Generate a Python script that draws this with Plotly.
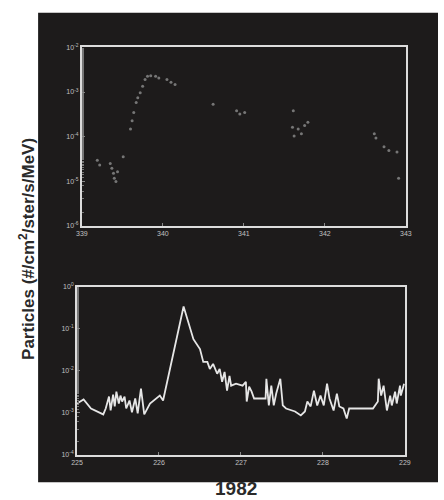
import plotly.graph_objects as go

# ---- data ----
# Top panel: day of year (339-343) vs particle flux (scattered points)
top_day = [339.19, 339.22, 339.35, 339.37, 339.39, 339.40, 339.42, 339.44, 339.51,
           339.60, 339.62, 339.64, 339.67, 339.69, 339.72, 339.75, 339.78, 339.81,
           339.85, 339.91, 339.95, 340.05, 340.10, 340.15,
           340.62, 340.91, 340.95, 341.01,
           341.61, 341.60, 341.62, 341.67, 341.71, 341.75, 341.79,
           342.61, 342.63, 342.73, 342.79, 342.89, 342.91]
top_flux = [2.97e-5, 2.31e-5, 2.51e-5, 1.95e-5, 1.51e-5, 1.17e-5, 9.9e-6, 1.64e-5, 3.52e-5,
            1.49e-4, 2.28e-4, 3.48e-4, 5.78e-4, 7.46e-4, 9.62e-4, 1.35e-3, 1.90e-3, 2.25e-3,
            2.32e-3, 2.25e-3, 2.07e-3, 1.90e-3, 1.66e-3, 1.47e-3,
            5.32e-4, 3.78e-4, 3.20e-4, 3.48e-4,
            3.78e-4, 1.62e-4, 1.03e-4, 1.49e-4, 1.16e-4, 1.77e-4, 2.09e-4,
            1.16e-4, 9.3e-5, 5.9e-5, 4.9e-5, 4.5e-5, 1.17e-5]

# Bottom panel: day of year (225-229) vs particle flux (line)
bot_day = [225.00, 225.08, 225.17, 225.32, 225.35, 225.39, 225.41, 225.44, 225.46, 225.48,
           225.51, 225.53, 225.55, 225.58, 225.60, 225.64, 225.67, 225.71, 225.74, 225.78,
           225.82, 225.89, 226.01, 226.05, 226.30, 226.42, 226.50, 226.54, 226.59, 226.62,
           226.66, 226.71, 226.74, 226.77, 226.80, 226.83, 226.86, 226.88, 226.94, 227.02,
           227.06, 227.07, 227.10, 227.13, 227.16, 227.19, 227.30, 227.31, 227.34, 227.37,
           227.40, 227.43, 227.48, 227.51, 227.55, 227.66, 227.73, 227.78, 227.81, 227.85,
           227.89, 227.93, 227.97, 228.01, 228.05, 228.08, 228.13, 228.17, 228.20, 228.25,
           228.29, 228.32, 228.49, 228.61, 228.67, 228.68, 228.71, 228.74, 228.78, 228.82,
           228.84, 228.88, 228.90, 228.94, 228.95, 228.99]
bot_flux = [1.66e-3, 2.06e-3, 1.26e-3, 9.1e-4, 1.26e-3, 2.43e-3, 1.13e-3, 2.70e-3, 1.41e-3, 3.18e-3,
            1.66e-3, 2.56e-3, 1.85e-3, 2.43e-3, 1.26e-3, 1.95e-3, 1.02e-3, 2.18e-3, 9.6e-4, 3.75e-3,
            9.1e-4, 1.66e-3, 2.56e-3, 1.95e-3, 0.343, 0.0569, 0.0330, 0.0163, 0.0163, 0.0111,
            0.0146, 8.5e-3, 0.0111, 5.48e-3, 9.4e-3, 3.36e-3, 7.6e-3, 4.41e-3, 4.92e-3, 4.41e-3,
            5.48e-3, 1.85e-3, 4.18e-3, 3.18e-3, 2.18e-3, 2.18e-3, 2.18e-3, 6.46e-3, 1.49e-3, 4.41e-3,
            1.49e-3, 2.86e-3, 6.46e-3, 1.49e-3, 1.26e-3, 1.07e-3, 8.6e-4, 1.07e-3, 1.85e-3, 1.41e-3,
            3.36e-3, 1.49e-3, 2.56e-3, 1.49e-3, 4.92e-3, 2.18e-3, 1.13e-3, 2.86e-3, 1.41e-3, 1.26e-3,
            7.3e-4, 1.26e-3, 1.26e-3, 1.26e-3, 1.85e-3, 6.46e-3, 2.56e-3, 4.41e-3, 1.13e-3, 2.56e-3,
            1.49e-3, 3.18e-3, 1.66e-3, 4.41e-3, 2.56e-3, 4.92e-3]

top_xticks = [339, 340, 341, 342, 343]
top_yticks = [1e-6, 1e-5, 1e-4, 1e-3, 1e-2]
top_ylabels = ["10<sup>-6</sup>", "10<sup>-5</sup>", "10<sup>-4</sup>", "10<sup>-3</sup>", "10<sup>-2</sup>"]
bot_xticks = [225, 226, 227, 228, 229]
bot_yticks = [1e-4, 1e-3, 1e-2, 1e-1, 1e0]
bot_ylabels = ["10<sup>-4</sup>", "10<sup>-3</sup>", "10<sup>-2</sup>", "10<sup>-1</sup>", "10<sup>0</sup>"]

y_title = "Particles (#/cm<sup>2</sup>/ster/s/MeV)"
x_title = "1982"

W, H = 444, 500
BG = "#1d1b1b"
FRAME = "#dcdcdc"
TICKFONT = dict(family="Liberation Sans, Arial", size=7, color="#c0c0c0")

fig = go.Figure()
fig.add_trace(go.Scatter(x=top_day, y=top_flux, mode="markers",
                         marker=dict(size=3, color="#767676"),
                         xaxis="x", yaxis="y", showlegend=False))
fig.add_trace(go.Scatter(x=bot_day, y=bot_flux, mode="lines",
                         line=dict(width=1.8, color="#e6e6e6"),
                         xaxis="x2", yaxis="y2", showlegend=False))

def px_x(p):
    return p / W

def px_y(p):
    return 1 - p / H

axis_common = dict(showline=True, mirror=True, linecolor=FRAME, linewidth=2,
                   showgrid=False, zeroline=False, ticks="inside", ticklen=3,
                   tickcolor="#888", tickfont=TICKFONT)

fig.update_layout(
    width=W, height=H,
    margin=dict(l=0, r=0, t=0, b=0),
    paper_bgcolor="white",
    plot_bgcolor=BG,
    xaxis=dict(domain=[px_x(78), px_x(411)], range=[339, 343], tickvals=top_xticks,
               anchor="y", **axis_common),
    yaxis=dict(domain=[px_y(225), px_y(44)], type="log", range=[-6, -2],
               tickvals=top_yticks, ticktext=top_ylabels, anchor="x",
               minor=dict(ticks="inside", ticklen=2, tickcolor="#777"),
               **axis_common),
    xaxis2=dict(domain=[px_x(73), px_x(410)], range=[225, 229], tickvals=bot_xticks,
                anchor="y2", **axis_common),
    yaxis2=dict(domain=[px_y(457), px_y(287)], type="log", range=[-4, 0],
                tickvals=bot_yticks, ticktext=bot_ylabels, anchor="x2",
                minor=dict(ticks="inside", ticklen=2, tickcolor="#777"),
                **axis_common),
    shapes=[dict(type="rect", xref="paper", yref="paper",
                 x0=px_x(33), x1=1.0, y0=px_y(485), y1=px_y(9),
                 fillcolor=BG, line=dict(width=0), layer="below")],
    annotations=[
        dict(text=y_title, textangle=-90, xref="paper", yref="paper",
             x=px_x(21), y=px_y(248), showarrow=False,
             font=dict(family="Liberation Sans, Arial", size=17, color="#2a2a2a", weight="bold"),
             xanchor="center", yanchor="middle"),
        dict(text=x_title, xref="paper", yref="paper",
             x=px_x(236), y=px_y(491), showarrow=False,
             font=dict(family="Liberation Sans, Arial", size=19, color="#2a2a2a", weight="bold"),
             xanchor="center", yanchor="middle"),
    ],
)

fig.write_html("out.html")
